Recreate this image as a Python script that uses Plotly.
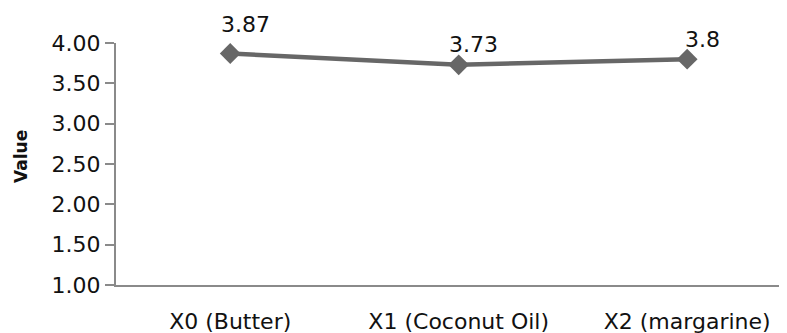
import plotly.graph_objects as go

categories = ["X0 (Butter)", "X1 (Coconut Oil)", "X2 (margarine)"]
values = [3.87, 3.73, 3.8]
labels = ["3.87", "3.73", "3.8"]
y_ticks = [1.0, 1.5, 2.0, 2.5, 3.0, 3.5, 4.0]

FONT = "DejaVu Sans"
GRAY_AXIS = "#8a8a8a"
LINE = "#676767"
label_dy = [14, 6, 5]  # per-label vertical nudge (px), styling only

fig = go.Figure()
fig.add_trace(go.Scatter(
    x=list(range(len(categories))), y=values,
    mode="lines+markers",
    line=dict(color=LINE, width=4.5),
    marker=dict(symbol="diamond", size=16, color=LINE),
    cliponaxis=False,
    showlegend=False,
))

for i, (v, t) in enumerate(zip(values, labels)):
    fig.add_annotation(
        x=i, y=v, text=t, showarrow=False,
        xanchor="center", yanchor="bottom",
        xshift=15, yshift=label_dy[i],
        font=dict(family=FONT, size=22, color="#111111"),
    )

fig.add_annotation(
    xref="paper", yref="paper", x=-0.1416, y=0.533,
    text="<b>Value</b>", textangle=-90, showarrow=False,
    xanchor="center", yanchor="middle",
    font=dict(family=FONT, size=17, color="#111111"),
)

fig.update_layout(
    width=779, height=325,
    margin=dict(l=108, r=0, t=35, b=48, autoexpand=False),
    paper_bgcolor="white", plot_bgcolor="white",
    font=dict(family=FONT, size=22, color="#111111"),
    xaxis=dict(
        range=[-0.5, 2.437],
        tickmode="array", tickvals=list(range(len(categories))), ticktext=categories,
        showgrid=False, zeroline=False,
        showline=True, linecolor=GRAY_AXIS, linewidth=2,
        ticks="", tickfont=dict(family=FONT, size=22, color="#111111"),
        ticklabelstandoff=16,
    ),
    yaxis=dict(
        range=[1, 4],
        tickmode="array", tickvals=y_ticks,
        ticktext=[f"{v:.2f}" for v in y_ticks],
        showgrid=False, zeroline=False,
        showline=True, linecolor=GRAY_AXIS, linewidth=2,
        ticks="outside", ticklen=9, tickcolor=GRAY_AXIS, tickwidth=1.5,
        tickfont=dict(family=FONT, size=22, color="#111111"),
    ),
)

fig.write_html("out.html")
